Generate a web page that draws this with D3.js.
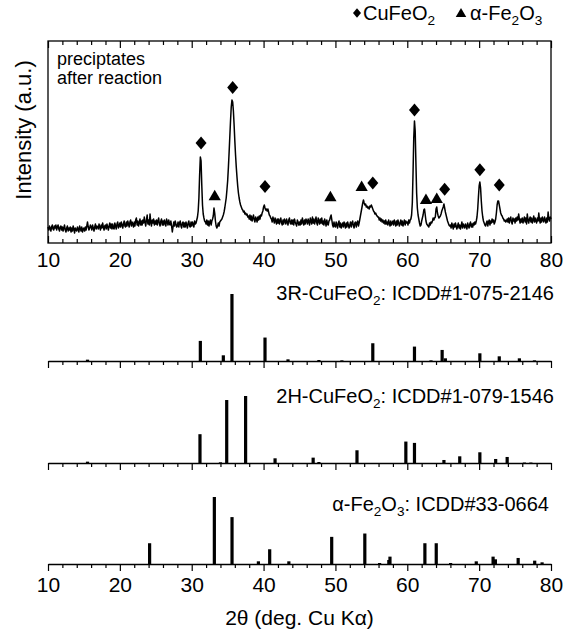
<!DOCTYPE html>
<html>
<head>
<meta charset="utf-8">
<title>XRD precipitates</title>
<script src="https://d3js.org/d3.v7.min.js"></script>
<style>
  body { margin: 0; background: #fff; }
  svg text { font-family: "Liberation Sans", Arial, Helvetica, sans-serif; fill: #000; }
</style>
</head>
<body>
<script>
// measured pattern (a.u.), 10.0 .. 80.0 deg, step 0.1 -- one row per degree
var scanStart = 10, scanStep = 0.1;
var counts = [
  16,13,17,15,12,16,18,14,13,17,   // 10
  15,18,13,16,18,14,12,16,17,13,   // 11
  16,12,15,18,13,11,15,17,12,15,   // 12
  13,16,11,15,12,17,14,10,15,13,   // 13
  12,16,14,11,17,14,12,16,11,14,   // 14
  15,12,16,13,17,21,16,13,15,18,   // 15
  16,13,18,15,12,16,19,14,17,16,   // 16
  14,19,16,13,18,15,20,16,13,17,   // 17
  18,14,19,16,13,17,20,15,19,14,   // 18
  19,15,14,20,17,14,19,21,15,17,   // 19
  20,16,21,18,15,19,22,17,16,21,   // 20
  17,22,19,16,21,23,17,21,19,16,   // 21
  21,17,23,25,18,22,17,20,24,18,   // 22
  22,18,23,20,26,21,17,23,28,19,   // 23
  23,18,29,21,17,23,20,24,18,22,   // 24
  19,23,18,22,25,19,17,22,24,18,   // 25
  22,18,23,20,17,24,21,18,23,19,   // 26
  18,22,17,11,16,21,17,22,19,16,   // 27
  17,21,16,20,22,17,15,20,21,16,   // 28
  20,16,21,18,15,20,22,17,16,21,   // 29
  17,21,19,16,22,19,20,23,26,32,   // 30
  45,68,86,82,58,38,29,25,22,21,   // 31
  19,23,18,22,17,21,23,18,22,24,   // 32
  27,35,30,22,17,15,17,20,17,21,   // 33
  22,23,24,26,28,31,35,40,45,53,   // 34
  62,75,90,106,122,136,143,141,132,118, // 35
  102,88,76,66,57,50,45,41,38,36,  // 36
  34,33,31,32,29,30,28,29,26,27,   // 37
  24,28,23,27,22,25,28,23,21,26,   // 38
  24,21,26,23,27,24,28,27,30,32,   // 39
  36,38,35,33,34,32,34,31,28,27,   // 40
  25,24,21,26,23,20,25,22,19,24,   // 41
  20,24,19,22,25,20,18,23,19,24,   // 42
  22,19,24,21,18,23,25,20,19,23,   // 43
  19,23,18,24,21,19,17,23,21,18,   // 44
  21,18,23,19,25,21,18,23,19,24,   // 45
  22,19,24,21,18,25,22,19,26,20,   // 46
  24,19,22,26,20,18,25,22,19,24,   // 47
  20,25,19,22,18,24,21,17,23,19,   // 48
  18,22,23,26,28,23,18,16,21,17,   // 49
  16,21,18,15,20,22,16,20,15,18,   // 50
  20,16,21,18,15,20,16,21,18,15,   // 51
  18,21,16,20,22,17,15,20,21,16,   // 52
  20,22,17,20,24,28,32,36,40,43,   // 53
  40,38,39,36,37,35,36,34,37,36,   // 54
  38,36,34,32,31,29,30,28,27,26,   // 55
  26,23,25,22,24,21,23,20,22,19,   // 56
  23,19,21,18,23,20,17,22,18,20,   // 57
  22,18,23,20,17,22,18,23,20,17,   // 58
  20,23,18,22,17,20,23,18,22,20,   // 59
  21,18,23,20,23,24,28,40,70,105,  // 60
  122,112,80,50,35,28,24,20,17,18, // 61
  22,25,28,33,34,28,22,19,18,17,   // 62
  16,20,18,21,20,22,25,23,25,26,   // 63
  34,36,30,27,25,26,27,29,32,34,   // 64
  36,39,35,31,28,25,22,20,18,17,   // 65
  18,15,20,17,14,19,16,20,17,14,   // 66
  17,20,15,18,14,17,21,15,19,17,   // 67
  15,19,17,14,20,17,15,19,21,16,   // 68
  19,16,20,18,21,19,22,26,34,46,   // 69
  57,61,55,42,32,26,22,20,18,17,   // 70
  20,22,17,21,23,18,22,20,24,21,   // 71
  23,19,21,24,30,38,42,42,38,34,   // 72
  30,28,27,25,24,22,23,21,22,24,   // 73
  21,25,20,24,26,21,19,25,22,24,   // 74
  20,25,22,26,23,29,24,20,24,21,   // 75
  25,20,23,26,21,25,19,29,23,20,   // 76
  24,26,21,25,20,23,27,21,25,22,   // 77
  20,25,22,30,23,20,25,21,26,23,   // 78
  21,26,23,20,25,21,31,24,22,26,   // 79
  24                               // 80
];

// phase markers above the measured peaks (2theta, height in a.u.)
var cuMarkPos = [31.3, 35.7, 40.2, 55.2, 61.0, 65.2, 70.1, 72.8];
var cuMarkY   = [100, 155.5, 56.5, 60, 133, 53.8, 73.3, 57.9];
var feMarkPos = [33.2, 49.3, 53.65, 62.6, 64.1];
var feMarkY   = [46.2, 45.2, 55.5, 42.5, 43.5];

// reference patterns (2theta, relative intensity %)
var r3Pos = [15.5, 31.2, 34.4, 35.6, 40.2, 43.4, 47.7, 50.9, 55.2, 61.0, 63.3, 64.85, 65.3, 70.1, 72.8, 75.6, 77.7];
var r3Int = [2, 30, 8.5, 100, 35, 2.5, 1.5, 1, 26.5, 21.5, 1, 16.5, 4, 11.5, 7, 4, 1];

var h2Pos = [15.5, 31.15, 34.0, 34.87, 37.5, 41.6, 46.9, 47.7, 53.0, 59.8, 61.0, 65.1, 67.3, 70.1, 72.3, 73.9, 76.3, 77.2];
var h2Int = [2, 43, 1, 94, 100, 7, 8, 1.5, 19, 32, 30, 4.5, 10, 16, 6, 9, 0.7, 0.7];

var hemPos = [24.14, 33.15, 35.61, 39.28, 40.85, 43.52, 49.48, 54.09, 56.15, 57.43, 57.59, 62.45, 64.03, 66.03, 69.6, 71.94, 72.26, 75.43, 77.73, 78.76];
var hemInt = [31, 100, 70, 4, 22, 4, 40.5, 45.5, 1.5, 6, 11, 31, 31, 1.5, 4, 11, 7, 9, 5, 2.5];

var majorTicks = [10, 20, 30, 40, 50, 60, 70, 80];
var minorTicks = d3.range(12, 80, 2).filter(function(d) { return d % 10 !== 0; });

var font = '"Liberation Sans", Arial, Helvetica, sans-serif';

var svg = d3.select('body').append('svg')
  .attr('width', 566)
  .attr('height', 632);

var x = d3.scaleLinear().domain([10, 80]).range([48, 551]);
var y = d3.scaleLinear().domain([0, 202]).range([243, 41]);
var ys = d3.scaleLinear().domain([0, 100]).range([0, -67]);

// rich text with subscripts: parts = [[text, isSub], ...]
function rich(sel, parts, size) {
  parts.forEach(function(p, i) {
    var prevSub = i > 0 && parts[i - 1][1];
    var dy = p[1] ? (prevSub ? 0 : 5) : (prevSub ? -5 : 0);
    sel.append('tspan')
      .attr('dy', dy)
      .attr('font-size', p[1] ? size * 0.68 : size)
      .text(p[0]);
  });
}

function tidy(g, size) {
  g.attr('font-family', font).attr('font-size', size);
  g.selectAll('.tick line').attr('stroke', '#000').attr('stroke-width', 1.2);
  g.selectAll('.tick text').attr('fill', '#000');
  g.select('.domain').attr('stroke', '#000').attr('stroke-width', 1.3);
}

// ---- top panel ----
var x0 = x.range()[0], x1 = x.range()[1];
svg.append('rect')
  .attr('x', x0).attr('y', y.range()[1])
  .attr('width', x1 - x0).attr('height', y.range()[0] - y.range()[1])
  .attr('fill', 'none').attr('stroke', '#000').attr('stroke-width', 1.3);

var gb = svg.append('g').attr('transform', 'translate(0,' + y.range()[0] + ')');
gb.call(d3.axisBottom(x).tickValues(majorTicks).tickSize(-7).tickPadding(9).tickFormat(d3.format('d')));
gb.call(tidy, 21); gb.select('.domain').remove();
var gbm = svg.append('g').attr('transform', 'translate(0,' + y.range()[0] + ')');
gbm.call(d3.axisBottom(x).tickValues(minorTicks).tickSize(-4).tickFormat(''));
gbm.call(tidy, 21); gbm.select('.domain').remove();

var gt = svg.append('g').attr('transform', 'translate(0,' + y.range()[1] + ')');
gt.call(d3.axisTop(x).tickValues(majorTicks).tickSize(-7).tickFormat(''));
gt.call(tidy, 21); gt.select('.domain').remove();
var gtm = svg.append('g').attr('transform', 'translate(0,' + y.range()[1] + ')');
gtm.call(d3.axisTop(x).tickValues(minorTicks).tickSize(-4).tickFormat(''));
gtm.call(tidy, 21); gtm.select('.domain').remove();

var scan = counts.map(function(c, i) { return [scanStart + i * scanStep, c]; });
svg.append('path')
  .datum(scan)
  .attr('d', d3.line().x(function(d) { return x(d[0]); }).y(function(d) { return y(d[1]); }))
  .attr('fill', 'none')
  .attr('stroke', '#000')
  .attr('stroke-width', 1.5)
  .attr('stroke-linejoin', 'round');

var diamond = {
  draw: function(c, s) {
    var w = Math.sqrt(s) / 2, h = w * 1.18;
    c.moveTo(0, -h); c.lineTo(w, 0); c.lineTo(0, h); c.lineTo(-w, 0); c.closePath();
  }
};

svg.selectAll('.cu')
  .data(cuMarkPos)
  .enter().append('path')
  .attr('class', 'cu')
  .attr('d', d3.symbol().type(diamond).size(121))
  .attr('transform', function(d, i) { return 'translate(' + x(d) + ',' + y(cuMarkY[i]) + ')'; });

svg.selectAll('.fe')
  .data(feMarkPos)
  .enter().append('path')
  .attr('class', 'fe')
  .attr('d', d3.symbol().type(d3.symbolTriangle).size(65))
  .attr('transform', function(d, i) { return 'translate(' + x(d) + ',' + y(feMarkY[i]) + ')'; });

// legend
svg.append('path').attr('d', d3.symbol().type(diamond).size(64)).attr('transform', 'translate(357,13)');
rich(svg.append('text').attr('x', 363).attr('y', 20), [['CuFeO', false], ['2', true]], 20);
svg.append('path').attr('d', d3.symbol().type(d3.symbolTriangle).size(48)).attr('transform', 'translate(461,14)');
rich(svg.append('text').attr('x', 470).attr('y', 20), [['α-Fe', false], ['2', true], ['O', false], ['3', true]], 20);

svg.append('text').attr('x', 57).attr('y', 65).attr('font-size', 18).text('preciptates');
svg.append('text').attr('x', 57).attr('y', 84).attr('font-size', 18).text('after reaction');

svg.append('text')
  .attr('transform', 'translate(31,130) rotate(-90)')
  .attr('text-anchor', 'middle')
  .attr('font-size', 22)
  .text('Intensity (a.u.)');

// ---- reference stick patterns ----
var panels = [
  { pos: r3Pos, inten: r3Int, base: 361, lx: 554, ly: 300, last: false,
    label: [['3R-CuFeO', false], ['2', true], [': ICDD#1-075-2146', false]] },
  { pos: h2Pos, inten: h2Int, base: 463, lx: 554, ly: 403, last: false,
    label: [['2H-CuFeO', false], ['2', true], [': ICDD#1-079-1546', false]] },
  { pos: hemPos, inten: hemInt, base: 564, lx: 549, ly: 511, last: true,
    label: [['α-Fe', false], ['2', true], ['O', false], ['3', true], [': ICDD#33-0664', false]] }
];

panels.forEach(function(p) {
  var g = svg.append('g').attr('transform', 'translate(0,' + p.base + ')');

  g.selectAll('rect')
    .data(p.pos)
    .enter().append('rect')
    .attr('x', function(d) { return x(d) - 1.6; })
    .attr('width', 3.2)
    .attr('y', function(d, i) { return ys(p.inten[i]); })
    .attr('height', function(d, i) { return -ys(p.inten[i]); })
    .attr('fill', '#000');

  var ga = g.append('g');
  ga.call(d3.axisBottom(x).tickValues(majorTicks).tickSize(7).tickSizeOuter(0).tickPadding(6)
    .tickFormat(p.last ? d3.format('d') : ''));
  ga.call(tidy, 21);
  var gm = g.append('g');
  gm.call(d3.axisBottom(x).tickValues(minorTicks).tickSize(4).tickFormat(''));
  gm.call(tidy, 21); gm.select('.domain').remove();

  rich(svg.append('text').attr('x', p.lx).attr('y', p.ly).attr('text-anchor', 'end'), p.label, 20);
});

svg.append('text')
  .attr('x', (x0 + x1) / 2)
  .attr('y', 625)
  .attr('text-anchor', 'middle')
  .attr('font-size', 21)
  .text('2θ (deg. Cu Kα)');
</script>
</body>
</html>
